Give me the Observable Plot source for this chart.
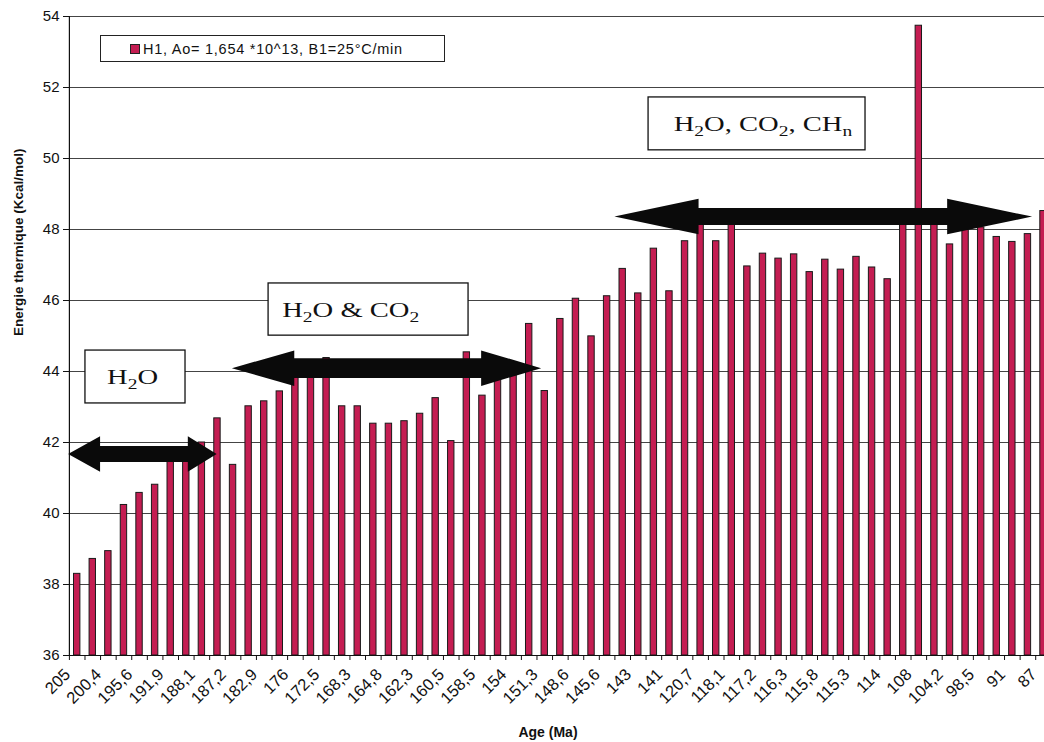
<!DOCTYPE html>
<html>
<head>
<meta charset="utf-8">
<script src="https://cdn.jsdelivr.net/npm/d3@7"></script>
<script src="https://cdn.jsdelivr.net/npm/@observablehq/plot@0.6"></script>
<style>
  body { margin: 0; background: #fff; overflow: hidden; }
  #wrap { position: relative; width: 1044px; height: 742px; }
  #legend { position: absolute; left: 100px; top: 35px; width: 345px; height: 27px;
    border: 1px solid #222; background: #fff; box-sizing: border-box;
    font: 14.5px "Liberation Sans", Arial, sans-serif; letter-spacing: 0.75px; color: #111;
    display: flex; align-items: center; white-space: nowrap; }
  #legend .sw { display: inline-block; width: 8px; height: 8px; margin-left: 29px; margin-right: 3px;
    border: 1px solid #222; }
</style>
</head>
<body>
<div id="wrap">
  <div id="chart"></div>
  <div id="legend"><span class="sw"></span><span id="legtext"></span></div>
</div>
<script>
// ---- data ----
const seriesName = "H1, Ao= 1,654 *10^13, B1=25°C/min";
const xTitle = "Age (Ma)";
const yTitle = "Energie thermique (Kcal/mol)";
// Age labels, shown under every second bar
const tickLabels = ["205","200,4","195,6","191,9","188,1","187,2","182,9","176","172,5","168,3",
  "164,8","162,3","160,5","158,5","154","151,3","148,6","145,6","143","141","120,7","118,1",
  "117,2","116,3","115,8","115,3","114","108","104,2","98,5","91","87"];
// thermal energy per bar (Kcal/mol)
const energy = [38.30,38.72,38.94,40.24,40.58,40.81,41.6,41.7,42.0,42.68,
  41.37,43.02,43.16,43.44,43.9,44.0,44.38,43.02,43.02,42.53,
  42.53,42.60,42.81,43.25,42.04,44.54,43.32,43.8,43.9,45.34,
  43.45,45.48,46.05,44.99,46.12,46.89,46.20,47.46,46.26,47.67,
  48.2,47.67,48.2,46.96,47.32,47.18,47.30,46.80,47.15,46.87,
  47.23,46.93,46.60,48.2,53.74,48.3,47.58,47.99,48.06,47.79,
  47.65,47.87,48.52];
const yTicks = [36,38,40,42,44,46,48,50,52,54];
// annotations (x in bar slots, y in Kcal/mol)
const boxText = ["H{2}O", "H{2}O & CO{2}", "H{2}O, CO{2}, CH{n}"];
const boxX1 = [1.03, 12.78, 37.16];
const boxX2 = [7.45, 25.61, 51.08];
const boxY1 = [43.10, 45.01, 50.23];
const boxY2 = [44.59, 46.48, 51.72];
const boxTextX = [4.05, 18.05, 44.5];
const arrowFrom = [-0.05, 10.46, 35.0];
const arrowTo   = [9.48, 30.3, 61.8];
const arrowY    = [41.66, 44.08, 48.35];

// ---- build tables ----
const bars = energy.map((v, i) => ({slot: i, energy: v}));
const labels = tickLabels.map((t, k) => ({slot: 2 * k, label: t}));
const boxes = boxText.map((t, i) => ({text: t, x1: boxX1[i], x2: boxX2[i], y1: boxY1[i], y2: boxY2[i], tx: boxTextX[i]}));
const headLen = [[2.05, 1.85], [4.0, 3.85], [5.4, 5.45]];
const headHalf = 0.5, shaftHalf = [0.225, 0.28, 0.24];
const arrowPts = arrowFrom.flatMap((from, i) => {
  const to = arrowTo[i], y = arrowY[i], [hl, hr] = headLen[i], s = shaftHalf[i];
  return [
    {id: i, x: from, lo: y, hi: y},
    {id: i, x: from + hl, lo: y - headHalf, hi: y + headHalf},
    {id: i, x: from + hl, lo: y - s, hi: y + s},
    {id: i, x: to - hr, lo: y - s, hi: y + s},
    {id: i, x: to - hr, lo: y - headHalf, hi: y + headHalf},
    {id: i, x: to, lo: y, hi: y}
  ];
});

const barColor = "#c41d52";
const yMin = yTicks[0];

const chart = Plot.plot({
  width: 1044,
  height: 742,
  marginLeft: 69,
  marginRight: 0,
  marginTop: 16,
  marginBottom: 87,
  style: {fontFamily: "'Liberation Sans', Arial, sans-serif", fontSize: "14px", color: "#111", background: "#fff"},
  x: {domain: [0, energy.length], range: [68.9, 1050.8]},
  y: {domain: [yMin, yTicks[yTicks.length - 1]]},
  marks: [
    Plot.ruleY(yTicks, {stroke: "#444", strokeWidth: 1}),
    Plot.rect(bars, {x1: d => d.slot, x2: d => d.slot + 1, y1: () => yMin, y2: "energy",
      insetLeft: 4.6, insetRight: 4.6, fill: barColor, stroke: "#1a1a1a", strokeWidth: 1}),
    Plot.ruleY([yMin], {stroke: "#111", strokeWidth: 1.2}),
    Plot.ruleX([0], {stroke: "#111", strokeWidth: 1.2}),
    Plot.axisY({ticks: yTicks, tickSize: 6, tickPadding: 4, fontSize: 15, label: null, stroke: "#111"}),
    Plot.axisX({ticks: d3.range(0, energy.length + 1), tickSize: 5, tickFormat: () => "", label: null, stroke: "#111"}),
    Plot.text(labels, {x: d => d.slot + 0.5, frameAnchor: "bottom", text: "label", rotate: -45,
      textAnchor: "end", fontSize: 16.5, dx: -6, dy: 20, fill: "#111"}),
    Plot.text([yTitle], {frameAnchor: "left", rotate: -90, dx: -51, fontWeight: "bold", fontSize: 13.5, fill: "#111"}),
    Plot.text([xTitle], {frameAnchor: "bottom", dx: -9, dy: 81, fontWeight: "bold", fontSize: 14, fill: "#111"}),
    Plot.area(arrowPts, {x1: "x", y1: "lo", y2: "hi", z: "id", fill: "#0a0a0a", curve: "linear"}),
    Plot.rect(boxes, {x1: "x1", x2: "x2", y1: "y1", y2: "y2", fill: "#fff", stroke: "#111", strokeWidth: 1.3}),
    Plot.text(boxes, {x: "tx", y: d => (d.y1 + d.y2) / 2, text: "text",
      fontFamily: "'Liberation Serif', 'Times New Roman', serif", fontSize: 22, fill: "#111"})
  ]
});
document.getElementById("chart").appendChild(chart);
document.getElementById("legtext").textContent = seriesName;
document.querySelector("#legend .sw").style.background = barColor;

// render {x} as subscripts; annotation text is set wide as in the scan
chart.querySelectorAll("text").forEach(t => {
  const s = t.textContent;
  if (!s.includes("{")) return;
  const parts = s.split(/(\{[^}]*\})/).filter(p => p.length);
  while (t.firstChild) t.removeChild(t.firstChild);
  let down = false;
  parts.forEach(p => {
    const ts = document.createElementNS("http://www.w3.org/2000/svg", "tspan");
    if (p.startsWith("{")) {
      ts.textContent = p.slice(1, -1);
      ts.setAttribute("font-size", "15");
      ts.setAttribute("dy", "5");
      down = true;
    } else {
      ts.textContent = p;
      if (down) { ts.setAttribute("dy", "-5"); down = false; }
    }
    t.appendChild(ts);
  });
  const tr = t.getAttribute("transform") || "";
  t.setAttribute("transform", tr + " scale(1.3,1)");
});
</script>
</body>
</html>
